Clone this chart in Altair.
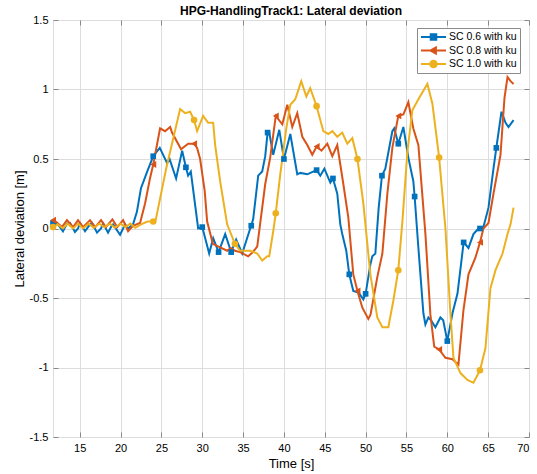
import altair as alt
import pandas as pd
import numpy as np

SERIES = ["SC 0.6 with ku", "SC 0.8 with ku", "SC 1.0 with ku"]
COLORS = ["#0072BD", "#D95319", "#EDB120"]

blue_t = [11.73, 11.97, 12.34, 12.95, 13.44, 13.81, 14.42, 14.79, 15.04, 15.65, 16.26,
          16.51, 17.12, 17.61, 17.86, 18.47, 18.96, 19.08, 19.94, 20.31, 20.55, 20.92, 21.53,
          22.0, 22.5, 23.2, 24.0, 24.8, 25.7, 26.0, 26.8, 27.54, 28.0, 28.27, 28.6, 29.5, 30.0, 30.85,
          31.34, 32.0, 32.81, 33.54, 34.15, 34.89, 35.87, 36.0, 36.24, 36.85, 37.34, 37.71, 38.0,
          38.2, 38.69, 39.43, 40.0, 40.78, 41.63, 42.0, 42.86, 44.0, 44.45, 44.95, 45.68, 46.0, 46.53,
          46.9, 47.14, 47.63, 48.0, 48.49, 49.11, 49.72, 50.0, 50.58, 50.82, 51.19, 51.6, 52.0, 52.41,
          53.27, 53.5, 54.0, 54.62, 55.23, 55.84, 56.0, 56.46, 57.07, 57.32, 57.68, 58.0, 58.54, 59.15,
          59.5, 60.0, 60.63, 61.24, 62.0, 62.59, 63.2, 63.81, 64.0, 64.42, 65.04, 65.65, 66.0, 66.63,
          67.13, 67.49, 68.11]
blue_v = [0.04, 0.045, 0.03, -0.02, 0.035, 0.04, -0.025, 0.0, 0.04, -0.02, 0.03,
          0.04, -0.03, 0.0, 0.035, -0.03, 0.025, 0.03, -0.045, 0.0, 0.03, 0.0, 0.03,
          0.12, 0.29, 0.40, 0.52, 0.58, 0.47, 0.50, 0.36, 0.56, 0.44, 0.38, 0.41, 0.0, 0.01, -0.18,
          -0.07, -0.17, -0.04, -0.17, -0.08, -0.18, 0.0, 0.02, 0.07, 0.38, 0.41, 0.52, 0.69,
          0.69, 0.53, 0.71, 0.50, 0.68, 0.39, 0.40, 0.39, 0.42, 0.38, 0.43, 0.33, 0.36, 0.25,
          0.03, -0.04, -0.16, -0.33, -0.45, -0.46, -0.51, -0.47, -0.26, -0.20, -0.18, 0.15, 0.38, 0.43,
          0.70, 0.72, 0.61, 0.73, 0.51, 0.34, 0.23, -0.14, -0.61, -0.69, -0.64, -0.66, -0.71, -0.64,
          -0.66, -0.81, -0.61, -0.47, -0.10, -0.14, -0.04, 0.0, 0.0, 0.01, 0.15, 0.43, 0.58, 0.84,
          0.76, 0.73, 0.78]

orange_t = [11.73, 11.97, 12.83, 13.44, 14.2, 14.79, 15.4, 16.26, 16.9, 17.61, 18.2, 19.0, 19.6,
            20.31, 20.92, 21.53, 22.39, 23.0, 23.6, 24.0, 24.84, 25.45, 26.07, 26.3, 27.41, 28.27, 29.0,
            29.37, 29.74, 30.3, 30.6, 31.3, 32.0, 33.05, 33.5, 34.0, 34.64, 35.62, 36.2, 36.73, 37.71,
            38.32, 39.0, 39.80, 40.41, 41.02, 41.63, 42.25, 42.86, 43.47, 44.0, 44.6, 45.31, 45.92,
            46.53, 47.27, 47.88, 48.49, 49.0, 49.60, 50.33, 50.6, 51.43, 52.05, 52.66, 53.27, 54.0,
            54.62, 55.23, 55.84, 56.46, 57.32, 57.93, 58.4, 59.0, 59.77, 60.63, 61.36, 61.97, 62.59,
            63.44, 64.0, 64.42, 65.04, 65.65, 66.51, 67.0, 67.37, 67.74, 68.11]
orange_v = [0.06, 0.055, 0.01, 0.06, 0.01, 0.06, 0.01, 0.06, 0.01, 0.06, 0.01, 0.065, 0.01,
            0.06, -0.02, 0.02, 0.04, 0.18, 0.36, 0.46, 0.72, 0.70, 0.73, 0.69, 0.57, 0.61, 0.61,
            0.58, 0.50, 0.27, 0.05, -0.11, -0.13, -0.16, -0.14, -0.16, -0.17, -0.20, -0.17, -0.13, 0.32,
            0.51, 0.81, 0.75, 0.89, 0.73, 0.83, 0.66, 0.60, 0.53, 0.59, 0.56, 0.61, 0.52,
            0.60, 0.32, 0.08, -0.33, -0.45, -0.57, -0.65, -0.62, -0.35, -0.18, 0.25, 0.58, 0.81,
            0.82, 0.91, 0.72, 0.60, -0.04, -0.62, -0.85, -0.87, -0.93, -0.94, -0.98, -0.59, -0.33,
            -0.21, -0.10, 0.0, 0.04, 0.25, 0.53, 0.94, 1.09, 1.06, 1.04]

yellow_t = [11.73, 12.3, 12.95, 13.5, 14.2, 14.8, 15.4, 16.1, 16.7, 17.4, 18.0, 18.7, 19.3,
            20.0, 20.6, 21.2, 21.8, 22.51, 23.3, 24.0, 24.3, 25.58, 27.29, 27.90, 28.52, 29.0, 29.37,
            30.11, 30.72, 31.34, 31.58, 32.19, 33.05, 34.0, 34.64, 35.87, 36.73, 37.34, 37.96, 38.2,
            38.69, 39.0, 39.55, 40.29, 40.78, 41.39, 42.12, 42.74, 43.22, 44.0, 44.82, 45.43, 45.92,
            46.53, 47.14, 47.76, 48.37, 49.0, 49.72, 50.58, 51.43, 52.05, 52.78, 53.39, 54.0, 54.50,
            55.11, 55.72, 56.46, 57.56, 58.17, 59.0, 59.77, 60.38, 60.75, 61.61, 62.46, 63.2, 64.0,
            64.67, 65.28, 65.90, 66.76, 67.37, 67.74, 68.11]
yellow_v = [0.01, 0.03, 0.0, 0.035, 0.0, 0.035, 0.0, 0.035, 0.005, 0.035, 0.01, 0.035, 0.005,
            0.035, 0.01, 0.035, 0.005, 0.03, 0.05, 0.05, 0.06, 0.43, 0.86, 0.83, 0.84, 0.78, 0.70,
            0.81, 0.76, 0.76, 0.60, 0.34, 0.03, -0.11, -0.16, -0.16, -0.18, -0.23, -0.20, -0.20,
            -0.02, 0.11, 0.39, 0.72, 0.89, 0.93, 1.06, 0.95, 1.01, 0.88, 0.70, 0.68, 0.70,
            0.66, 0.69, 0.61, 0.65, 0.50, 0.18, -0.33, -0.64, -0.71, -0.71, -0.52, -0.30, 0.05,
            0.55, 0.85, 0.93, 1.04, 0.90, 0.51, 0.0, -0.61, -0.93, -1.04, -1.09, -1.11, -1.02,
            -0.86, -0.43, -0.30, -0.18, -0.04, 0.03, 0.15]

blue_marker_t = [11.73, 24.0, 28.0, 30.0, 32.0, 33.54, 36.0, 38.0, 40.0, 44.0, 46.0, 48.0, 50.0,
                 52.0, 54.0, 56.0, 60.0, 62.0, 64.0, 66.0]
orange_marker_t = [11.73, 24.0, 29.0, 39.0, 44.0, 49.0, 54.0, 59.0, 64.0]
yellow_marker_t = [11.73, 24.0, 29.0, 34.0, 39.0, 44.0, 49.0, 54.0, 59.0, 64.0]

x_ticks = [15, 20, 25, 30, 35, 40, 45, 50, 55, 60, 65, 70]
y_ticks = [-1.5, -1, -0.5, 0, 0.5, 1, 1.5]
X_DOMAIN = [11.73, 70]
Y_DOMAIN = [-1.5, 1.5]

frames = []
for name, ts, vs, mk in [(SERIES[0], blue_t, blue_v, blue_marker_t),
                         (SERIES[1], orange_t, orange_v, orange_marker_t),
                         (SERIES[2], yellow_t, yellow_v, yellow_marker_t)]:
    d = pd.DataFrame({"t": ts, "v": vs})
    d["series"] = name
    d["marker"] = np.isin(d["t"].values, mk)
    d["order"] = range(len(d))
    frames.append(d)
df = pd.concat(frames, ignore_index=True)

FONT = "Liberation Sans"
TXT = "#262626"
AX = "#6b6b6b"

xs = alt.Scale(domain=X_DOMAIN, nice=False, zero=False)
ys = alt.Scale(domain=Y_DOMAIN, nice=False, zero=False)
color_scale = alt.Scale(domain=SERIES, range=COLORS)

base = alt.Chart(df)

lines = base.mark_line(strokeWidth=2).encode(
    x=alt.X("t:Q", scale=xs, axis=alt.Axis(
        orient="bottom", values=x_ticks, title="Time [s]", grid=True, ticks=False, domain=False,
        labelPadding=5, titlePadding=4, labelFontSize=11, titleFontSize=13, titleFontWeight="normal")),
    y=alt.Y("v:Q", scale=ys, axis=alt.Axis(
        orient="left", values=y_ticks, title="Lateral deviation [m]", grid=True, ticks=False,
        domain=False, labelPadding=5, titlePadding=3, labelFontSize=11, titleFontSize=13,
        titleFontWeight="normal", labelExpr="'' + datum.value")),
    color=alt.Color("series:N", scale=color_scale, legend=None),
    order="order:Q",
)

marker_layers = []
for i, (name, shp, sz) in enumerate(zip(SERIES, ["square", "triangle-left", "circle"], [32, 48, 44])):
    if i == 0:
        xa = alt.Axis(orient="bottom", values=x_ticks, title=None, labels=False, grid=False,
                      domain=False, ticks=True, tickSize=5, offset=-5)
        ya = alt.Axis(orient="left", values=y_ticks, title=None, labels=False, grid=False,
                      domain=False, ticks=True, tickSize=5, offset=-5)
    else:
        xa = None
        ya = None
    marker_layers.append(
        base.transform_filter(alt.datum.series == name).transform_filter("datum.marker")
        .mark_point(filled=True, opacity=1, shape=shp, size=sz, color=COLORS[i])
        .encode(x=alt.X("t:Q", scale=xs, axis=xa), y=alt.Y("v:Q", scale=ys, axis=ya))
    )

legend_paths = [
    "M-1,0L1,0M-0.22,-0.22L0.22,-0.22L0.22,0.22L-0.22,0.22Z",
    "M-1,0L1,0M-0.25,0L0.19,-0.25L0.19,0.25Z",
    "M-1,0L1,0M-0.26,0A0.26,0.26,0,1,0,0.26,0A0.26,0.26,0,1,0,-0.26,0Z",
]
leg = dict(title=None, orient="none", legendX=364, legendY=8, labelFontSize=10.5, labelFont=FONT,
           labelColor="#000000", symbolSize=625, symbolStrokeWidth=2, clipHeight=12, rowPadding=1.5,
           padding=3, strokeColor="#8a8a8a", fillColor="#ffffff", labelOffset=2, cornerRadius=0,
           symbolOpacity=1)

legend_layer = base.transform_filter("datum.marker").mark_point(filled=True).encode(
    x=alt.X("t:Q", scale=xs, axis=alt.Axis(
        orient="top", values=x_ticks, title=None, labels=False, grid=False, domain=False,
        ticks=True, tickSize=5, offset=-5)),
    y=alt.Y("v:Q", scale=ys, axis=alt.Axis(
        orient="right", values=y_ticks, title=None, labels=False, grid=False, domain=False,
        ticks=True, tickSize=5, offset=-5)),
    shape=alt.Shape("series:N", scale=alt.Scale(domain=SERIES, range=legend_paths), legend=alt.Legend(**leg)),
    fill=alt.Fill("series:N", scale=alt.Scale(domain=SERIES, range=COLORS), legend=alt.Legend(**leg)),
    stroke=alt.Stroke("series:N", scale=alt.Scale(domain=SERIES, range=COLORS), legend=alt.Legend(**leg)),
    opacity=alt.value(0),
)

chart = alt.layer(legend_layer, lines, *marker_layers).resolve_axis(
    x="independent", y="independent"
).properties(
    width=476, height=417,
    title=alt.TitleParams("HPG-HandlingTrack1: Lateral deviation", fontSize=12, fontWeight="bold",
                          font=FONT, color="#000000", offset=5, dy=9, anchor="middle"),
    autosize=alt.AutoSizeParams(type="none"),
    padding={"left": 53, "top": 20, "right": 8, "bottom": 37},
).configure_view(
    stroke=AX, strokeWidth=1
).configure_axis(
    labelFont=FONT, titleFont=FONT, labelColor=TXT, titleColor=TXT, titleFontWeight="normal",
    gridColor="#e4e4e4", gridWidth=1, tickColor=AX, tickWidth=1
).configure(background="white")

chart.save("out.html", embed_options={"renderer": "svg", "actions": False})
